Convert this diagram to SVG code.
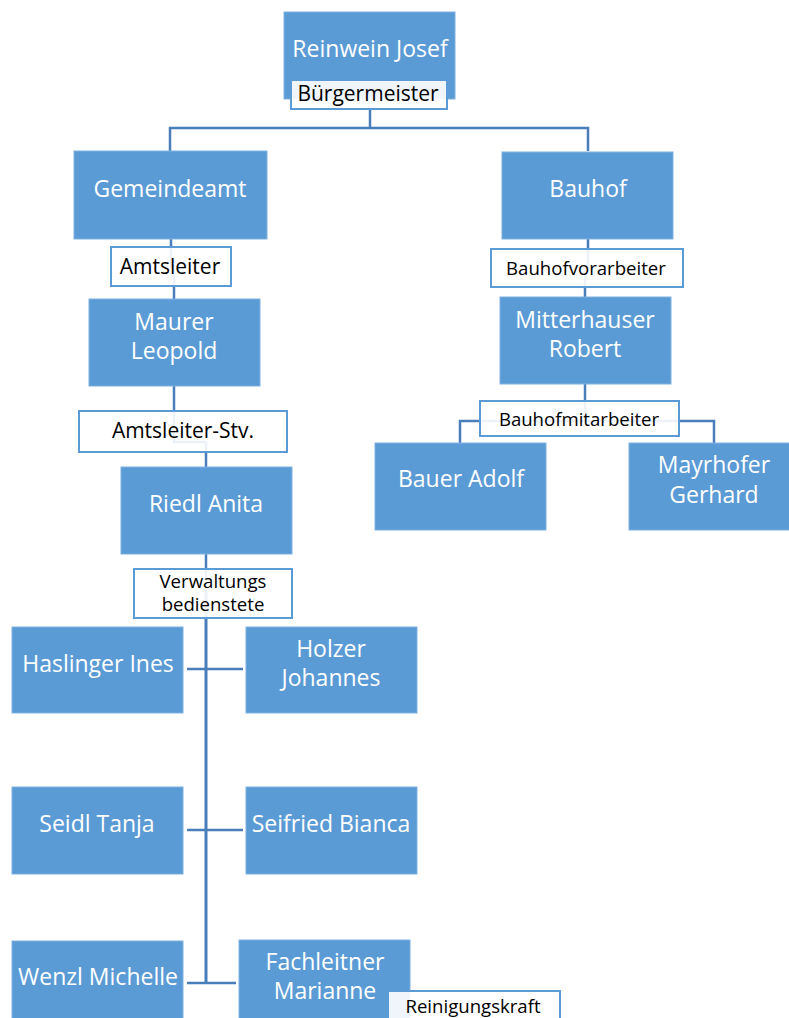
<svg xmlns="http://www.w3.org/2000/svg" width="789" height="1018" viewBox="0 0 789 1018">
<style>
.n{fill:#5B9BD5;stroke:#7FB1E0;stroke-width:1}
.t{font-family:"Open Sans","Liberation Sans",sans-serif;font-size:23px;fill:#FFFFFF;text-anchor:middle}
.lb{fill:#FFFFFF;fill-opacity:0.9;stroke:#5B9BD5;stroke-width:2}
.l{font-family:"Open Sans","Liberation Sans",sans-serif;font-size:21px;fill:#000000;text-anchor:middle}
.s{font-family:"Open Sans","Liberation Sans",sans-serif;font-size:18.6px;fill:#000000;text-anchor:middle}
.c{fill:none;stroke:#4A7EBB;stroke-width:2.5}
</style>
<rect width="789" height="1018" fill="#FFFFFF"/>
<g id="connectors">
<path class="c" d="M370 109 V128"/>
<path class="c" d="M170 151 V128 H588 V151"/>
<path class="c" d="M171 239 V266 H174 V299"/>
<path class="c" d="M174 386 V442 H206 V467"/>
<path class="c" d="M588 239 V268 H585 V297"/>
<path class="c" d="M585 384 V421"/>
<path class="c" d="M460 443 V421 H714 V443"/>
<path class="c" d="M206 554 V580"/>
<path class="c" d="M206 590 V984" style="stroke-width:3"/>
<path class="c" d="M187 669 H243"/>
<path class="c" d="M187 830 H243"/>
<path class="c" d="M187 983 H236"/>
</g>
<g id="reinwein">
<rect class="n" x="284" y="12" width="171" height="87"/>
<text class="t" x="370" y="57">Reinwein Josef</text>
<rect class="lb" x="291" y="80" width="156" height="29"/>
<text class="l" x="368" y="101">Bürgermeister</text>
</g>
<g id="gemeindeamt">
<rect class="n" x="74" y="151" width="193" height="88"/>
<text class="t" x="170" y="197">Gemeindeamt</text>
<rect class="lb" x="111" y="247" width="120" height="39"/>
<text class="l" x="170" y="274">Amtsleiter</text>
</g>
<g id="bauhof">
<rect class="n" x="502" y="152" width="171" height="87"/>
<text class="t" x="588" y="197">Bauhof</text>
<rect class="lb" x="491" y="249" width="192" height="38"/>
<text class="s" x="586" y="275">Bauhofvorarbeiter</text>
</g>
<g id="maurer">
<rect class="n" x="89" y="299" width="171" height="87"/>
<text class="t" x="174" y="330">Maurer</text>
<text class="t" x="174" y="359">Leopold</text>
<rect class="lb" x="79" y="411" width="208" height="41"/>
<text class="l" x="183" y="438">Amtsleiter-Stv.</text>
</g>
<g id="mitterhauser">
<rect class="n" x="500" y="297" width="171" height="87"/>
<text class="t" x="585" y="328">Mitterhauser</text>
<text class="t" x="585" y="357">Robert</text>
<rect class="lb" x="480" y="401" width="199" height="35"/>
<text class="s" x="579" y="426">Bauhofmitarbeiter</text>
</g>
<g id="bauer">
<rect class="n" x="375" y="443" width="171" height="87"/>
<text class="t" x="461" y="487">Bauer Adolf</text>
</g>
<g id="mayrhofer">
<rect class="n" x="629" y="443" width="171" height="87"/>
<text class="t" x="714" y="473">Mayrhofer</text>
<text class="t" x="714" y="503">Gerhard</text>
</g>
<g id="riedl">
<rect class="n" x="121" y="467" width="171" height="87"/>
<text class="t" x="206" y="512">Riedl Anita</text>
<rect class="lb" x="134" y="569" width="158" height="49"/>
<text class="s" x="213" y="588">Verwaltungs</text>
<text class="s" x="213" y="611">bedienstete</text>
</g>
<g id="haslinger">
<rect class="n" x="12" y="627" width="171" height="86"/>
<text class="t" x="98" y="672">Haslinger Ines</text>
</g>
<g id="holzer">
<rect class="n" x="246" y="627" width="171" height="86"/>
<text class="t" x="331" y="657">Holzer</text>
<text class="t" x="331" y="686">Johannes</text>
</g>
<g id="seidl">
<rect class="n" x="12" y="787" width="171" height="87"/>
<text class="t" x="97" y="832">Seidl Tanja</text>
</g>
<g id="seifried">
<rect class="n" x="246" y="787" width="171" height="87"/>
<text class="t" x="331" y="832">Seifried Bianca</text>
</g>
<g id="wenzl">
<rect class="n" x="12" y="941" width="171" height="90"/>
<text class="t" x="98" y="985">Wenzl Michelle</text>
</g>
<g id="fachleitner">
<rect class="n" x="239" y="940" width="171" height="90"/>
<text class="t" x="325" y="970">Fachleitner</text>
<text class="t" x="325" y="999">Marianne</text>
<rect class="lb" x="388" y="991" width="172" height="40"/>
<text class="s" x="473" y="1013">Reinigungskraft</text>
</g>
</svg>
